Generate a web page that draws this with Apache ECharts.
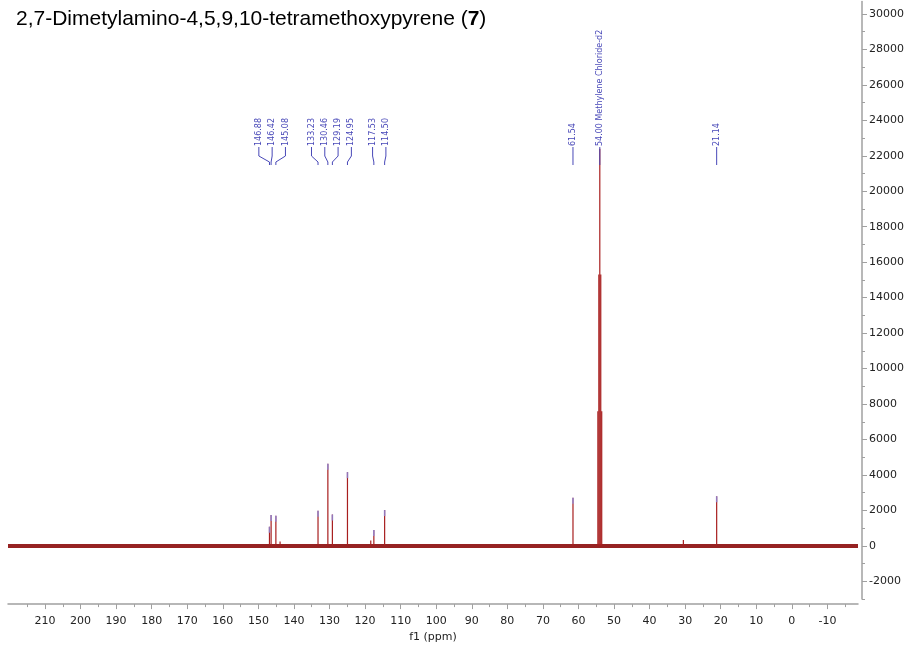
<!DOCTYPE html>
<html><head><meta charset="utf-8">
<script src="https://cdn.jsdelivr.net/npm/echarts@6/dist/echarts.min.js"></script>
<style>html,body{margin:0;padding:0;background:#fff}#c{width:908px;height:648px}</style>
</head><body><div id="c"></div>
<script>
// ---- data ----
const titleMain = '2,7-Dimetylamino-4,5,9,10-tetramethoxypyrene (';
const titleBold = '7';
const titleEnd = ')';
const xName = 'f1 (ppm)';

// labelled compound peaks (ppm, intensity)
const peakPpm    = [146.88, 146.42, 145.08, 133.23, 130.46, 129.19, 124.95, 117.53, 114.50, 61.54, 21.14];
const peakHeight = [1080,   1740,   1700,   1980,   4630,   1770,   4160,   900,    2020,   2720,  2800];

// CD2Cl2 solvent quintet
const solventPpm    = [54.54, 54.27, 54.00, 53.73, 53.46];
const solventHeight = [7600, 15300, 22400, 15300, 7600];

// small unlabelled bumps
const minorPpm    = [143.9, 118.4, 30.5];
const minorHeight = [250, 300, 330];

// baseline (noise level ~0)
const baselinePpm = [220.4, -18.6];
const baselineVal = [0, 0];

// peak labels
const labelPpm  = [146.88, 146.42, 145.08, 133.23, 130.46, 129.19, 124.95, 117.53, 114.50, 61.54, 54.00, 21.14];
const labelText = ['146.88','146.42','145.08','133.23','130.46','129.19','124.95','117.53','114.50','61.54','54.00 Methylene Chloride-d2','21.14'];
const markerPpm    = [146.88, 146.42, 145.08, 133.23, 130.46, 129.19, 124.95, 117.53, 114.50, 61.54, 21.14];
const markerHeight = [1080,   1740,   1700,   1980,   4630,   1770,   4160,   900,    2020,   2720,  2800];

// ticks
const xMajorTicks = [210,200,190,180,170,160,150,140,130,120,110,100,90,80,70,60,50,40,30,20,10,0,-10];
const xMinorTicks = [215,205,195,185,175,165,155,145,135,125,115,105,95,85,75,65,55,45,35,25,15,5,-5,-15];
const yMajorTicks = [30000,28000,26000,24000,22000,20000,18000,16000,14000,12000,10000,8000,6000,4000,2000,0,-2000];
const yMinorTicks = [29000,27000,25000,23000,21000,19000,17000,15000,13000,11000,9000,7000,5000,3000,1000,-1000,-3000];

// ---- chart ----
const FONT = 'DejaVu Sans';
const AXIS_COLOR = '#a0a0a0';
const LABEL_BLUE = '#4848b8';
const GAP = 13.3;

const stickData = [];
peakPpm.forEach((p,i)=>stickData.push([p, peakHeight[i]]));
solventPpm.forEach((p,i)=>stickData.push([p, solventHeight[i]]));
minorPpm.forEach((p,i)=>stickData.push([p, minorHeight[i]]));

function layoutLabels(api){
  const px = labelPpm.map(p => api.coord([p, 0])[0]);
  const order = px.map((x,i)=>i).sort((a,b)=>px[a]-px[b]);
  const groups = [];
  order.forEach(i => {
    groups.push({idx:[i], sum:px[i]});
    while (groups.length > 1) {
      const g = groups[groups.length-1], prev = groups[groups.length-2];
      const gStart = g.sum/g.idx.length - (g.idx.length-1)*GAP/2;
      const pEnd = prev.sum/prev.idx.length + (prev.idx.length-1)*GAP/2;
      if (gStart - pEnd < GAP) { prev.idx = prev.idx.concat(g.idx); prev.sum += g.sum; groups.pop(); }
      else break;
    }
  });
  const lx = new Array(px.length);
  groups.forEach(g => {
    const c = g.sum/g.idx.length;
    g.idx.forEach((i,k)=>{ lx[i] = c + (k-(g.idx.length-1)/2)*GAP; });
  });
  return {px, lx};
}

const chart = echarts.init(document.getElementById('c'), null, {renderer:'canvas'});
const option = {
  animation: false,
  backgroundColor: '#fff',
  title: {
    text: '{n|' + titleMain + '}{b|' + titleBold + '}{n|' + titleEnd + '}',
    left: 11, top: 4,
    textStyle: {
      fontWeight: 'normal',
      rich: {
        n: {fontFamily: 'Liberation Sans', fontSize: 21, fontWeight: 'normal', color: '#000'},
        b: {fontFamily: 'Liberation Sans', fontSize: 21, fontWeight: 'bold', color: '#000'}
      }
    }
  },
  grid: {left: 8, right: 50, top: 1.5, bottom: 45, containLabel: false},
  xAxis: [{
    type: 'value', min: -18.6, max: 220.4, inverse: true, position: 'bottom', offset: 5,
    axisLine: {show: true, onZero: false, lineStyle: {color: AXIS_COLOR, width: 1.5}},
    axisTick: {show: true, inside: false, customValues: xMajorTicks, length: 5, lineStyle: {color: AXIS_COLOR}},
    axisLabel: {show: true, customValues: xMajorTicks, margin: 12, fontFamily: FONT, fontSize: 11, color: '#222'},
    splitLine: {show: false},
    name: xName, nameLocation: 'middle', nameGap: 26,
    nameTextStyle: {fontFamily: FONT, fontSize: 11, color: '#222'}
  }, {
    type: 'value', min: -18.6, max: 220.4, inverse: true, position: 'bottom', offset: 5,
    axisLine: {show: false, onZero: false},
    axisTick: {show: true, inside: false, customValues: xMinorTicks, length: 3, lineStyle: {color: AXIS_COLOR}},
    axisLabel: {show: false},
    splitLine: {show: false}
  }],
  yAxis: [{
    type: 'value', min: -3000, max: 30700, position: 'right', offset: 4,
    axisLine: {show: true, onZero: false, lineStyle: {color: AXIS_COLOR, width: 1.5}},
    axisTick: {show: true, inside: false, customValues: yMajorTicks, length: 5, lineStyle: {color: AXIS_COLOR}},
    axisLabel: {show: true, customValues: yMajorTicks, margin: 7, fontFamily: FONT, fontSize: 11, color: '#222',
      formatter: v => String(v)},
    splitLine: {show: false}
  }, {
    type: 'value', min: -3000, max: 30700, position: 'right', offset: 4,
    axisLine: {show: false, onZero: false},
    axisTick: {show: true, inside: false, customValues: yMinorTicks, length: 3, lineStyle: {color: AXIS_COLOR}},
    axisLabel: {show: false},
    splitLine: {show: false}
  }],
  series: [{
    type: 'line', name: 'baseline', silent: true, symbol: 'none',
    data: baselinePpm.map((p,i)=>[p, baselineVal[i]]),
    lineStyle: {color: '#8b0a0a', width: 4, opacity: 0.9}, z: 2
  }, {
    type: 'bar', name: 'peaks', silent: true, barWidth: 1.2,
    data: stickData,
    itemStyle: {color: '#a81e1e'}, z: 3
  }, {
    type: 'scatter', name: 'markers', silent: true,
    symbol: 'rect', symbolSize: [1.6, 6], symbolOffset: [0, 3],
    data: markerPpm.map((p,i)=>[p, markerHeight[i]]),
    itemStyle: {color: '#8c8ce0'}, z: 4
  }, {
    type: 'custom', name: 'labels', silent: true, clip: false,
    data: labelPpm.map((p,i)=>[p, 0, i]),
    encode: {x: 0, y: 1},
    renderItem: function(params, api){
      const i = params.dataIndex;
      const L = layoutLabels(api);
      const lx = L.lx[i], px = L.px[i];
      const textBottom = 147, dashEnd = 156, connEnd = 165;
      return {
        type: 'group',
        children: [{
          type: 'polyline',
          shape: {points: [[lx, textBottom], [lx, dashEnd], [px, connEnd - 3], [px, connEnd]]},
          style: {stroke: LABEL_BLUE, lineWidth: 1, fill: null}
        }, {
          type: 'text',
          x: lx, y: textBottom - 1, rotation: Math.PI/2,
          style: {text: labelText[i], fill: LABEL_BLUE, font: '8px "DejaVu Sans"', align: 'left', verticalAlign: 'middle'}
        }]
      };
    },
    z: 5
  }]
};
chart.setOption(option);
</script>
</body></html>
